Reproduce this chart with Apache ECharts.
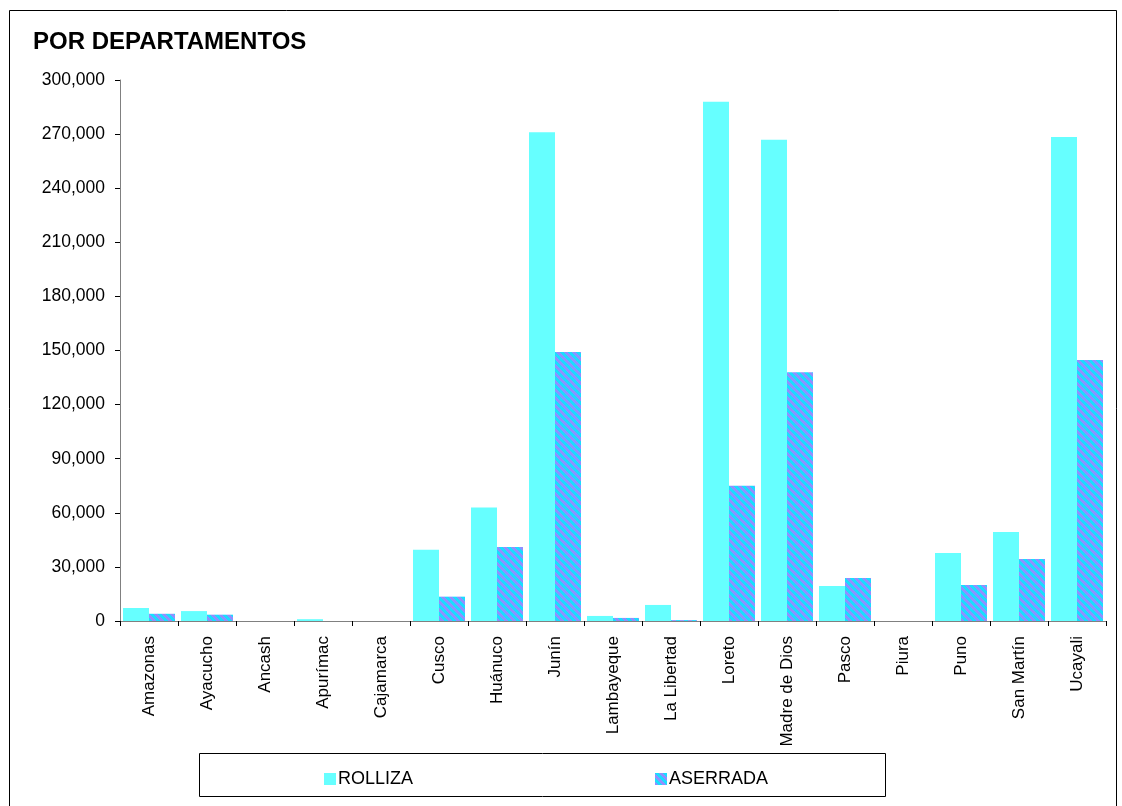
<!DOCTYPE html>
<html>
<head>
<meta charset="utf-8">
<script src="https://cdn.jsdelivr.net/npm/echarts@6/dist/echarts.min.js"></script>
<style>
html,body{margin:0;padding:0;background:#fff;}
#chart{width:1122px;height:806px;}
</style>
</head>
<body>
<div id="chart"></div>
<script>
const categories = ['Amazonas','Ayacucho','Ancash','Apurímac','Cajamarca','Cusco','Huánuco','Junín','Lambayeque','La Libertad','Loreto','Madre de Dios','Pasco','Piura','Puno','San Martín','Ucayali'];
const rolliza = [7200, 5500, 0, 1000, 0, 39500, 63000, 271000, 2800, 8900, 288000, 266800, 19400, 0, 37700, 49300, 268400];
const aserrada = [4000, 3500, 0, 0, 0, 13500, 41000, 149200, 1700, 500, 75000, 138000, 23800, 0, 20000, 34400, 144700];
const yTicks = [0, 30000, 60000, 90000, 120000, 150000, 180000, 210000, 240000, 270000, 300000];

function makePattern() {
  const c = document.createElement('canvas');
  c.width = 8; c.height = 8;
  const ctx = c.getContext('2d');
  for (let y = 0; y < 8; y++) {
    for (let x = 0; x < 8; x++) {
      const m = ((x - y) % 8 + 8) % 8;
      ctx.fillStyle = m < 4 ? '#1ADDFF' : '#9090FF';
      ctx.fillRect(x, y, 1, 1);
    }
  }
  return c;
}
const pattern = { image: makePattern(), repeat: 'repeat' };

const chart = echarts.init(document.getElementById('chart'), null, { renderer: 'canvas' });
const fontFamily = 'Liberation Sans, Arial, sans-serif';
chart.setOption({
  animation: false,
  backgroundColor: '#fff',
  textStyle: { fontFamily: fontFamily },
  graphic: [
    { type: 'rect', shape: { x: 9.5, y: 10.5, width: 1107, height: 800 }, style: { fill: 'none', stroke: '#000', lineWidth: 1 }, z: 0 },
    { type: 'rect', shape: { x: 199.5, y: 753.5, width: 686, height: 43 }, style: { fill: '#fff', stroke: '#000', lineWidth: 1 }, z: 0 },
    { type: 'text', left: 33, top: 30, style: { text: 'POR DEPARTAMENTOS', font: 'bold 24px ' + fontFamily, fill: '#000' } }
  ],
  grid: { left: 120, right: 16, top: 80, bottom: 185, containLabel: false },
  legend: [
    { data: ['ROLLIZA'], left: 319, top: 765, itemWidth: 12, itemHeight: 12, itemGap: 0,
      textStyle: { fontSize: 18, color: '#000', fontFamily: fontFamily, padding: [0,0,0,-3] }, icon: 'rect' },
    { data: ['ASERRADA'], left: 650, top: 765, itemWidth: 12, itemHeight: 12, itemGap: 0,
      textStyle: { fontSize: 18, color: '#000', fontFamily: fontFamily, padding: [0,0,0,-3] }, icon: 'rect' }
  ],
  xAxis: {
    type: 'category',
    data: categories,
    axisLine: { lineStyle: { color: '#808080', width: 1 } },
    axisTick: { show: true, length: 5, inside: false, alignWithLabel: false, lineStyle: { color: '#000' } },
    axisLabel: { rotate: 90, fontSize: 17, color: '#000', margin: 15, interval: 0 },
    splitLine: { show: false }
  },
  yAxis: {
    type: 'value',
    min: 0, max: 300000, interval: 30000,
    axisLine: { show: true, lineStyle: { color: '#808080', width: 1 } },
    axisTick: { show: true, length: 5, lineStyle: { color: '#000' } },
    axisLabel: { fontSize: 17.5, color: '#000', margin: 15,
      formatter: v => yTicks.includes(v) ? v.toLocaleString('en-US') : '' },
    splitLine: { show: false }
  },
  series: [
    { name: 'ROLLIZA', type: 'bar', data: rolliza, barWidth: 26, barGap: '0%',
      itemStyle: { color: '#66FFFF' } },
    { name: 'ASERRADA', type: 'bar', data: aserrada, barWidth: 26, barGap: '0%',
      itemStyle: { color: pattern } }
  ]
});
</script>
</body>
</html>
